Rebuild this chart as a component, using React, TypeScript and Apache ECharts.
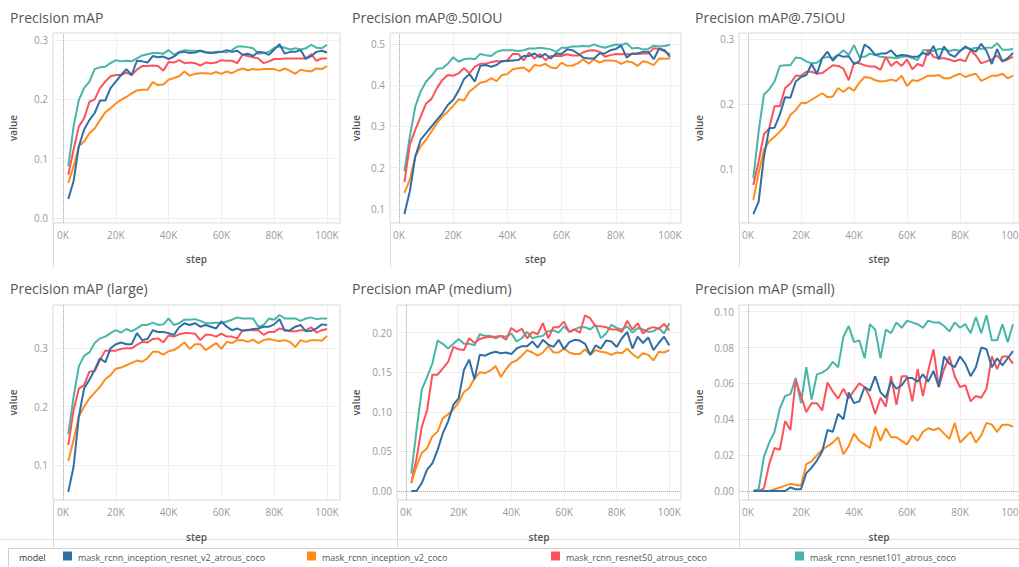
import React, { useEffect, useRef } from "react";
import * as echarts from "echarts";

// ---------- data ----------
const steps = [2, 4, 6, 8, 10, 12, 14, 16, 18, 20, 22, 24, 26, 28, 30, 32, 34, 36, 38, 40, 42, 44, 46, 48, 50, 52, 54, 56, 58, 60, 62, 64, 66, 68, 70, 72, 74, 76, 78, 80, 82, 84, 86, 88, 90, 92, 94, 96, 98, 100];

const models = [
  "mask_rcnn_inception_resnet_v2_atrous_coco",
  "mask_rcnn_inception_v2_coco",
  "mask_rcnn_resnet50_atrous_coco",
  "mask_rcnn_resnet101_atrous_coco",
];
const modelColors = ["#2f6fa5", "#ff8c1a", "#fc5259", "#49b5a9"];

const panelTitles = [
  "Precision mAP",
  "Precision mAP@.50IOU",
  "Precision mAP@.75IOU",
  "Precision mAP (large)",
  "Precision mAP (medium)",
  "Precision mAP (small)",
];

const xTicks = [0, 20, 40, 60, 80, 100];
const yTicksMap = [0, 0.1, 0.2, 0.3];
const yTicksMap50 = [0.1, 0.2, 0.3, 0.4, 0.5];
const yTicksMap75 = [0.1, 0.2, 0.3];
const yTicksLarge = [0.1, 0.2, 0.3];
const yTicksMedium = [0, 0.05, 0.1, 0.15, 0.2];
const yTicksSmall = [0, 0.02, 0.04, 0.06, 0.08, 0.1];

const mAP_incResV2 = [0.032, 0.062, 0.121, 0.149, 0.165, 0.177, 0.198, 0.198, 0.219, 0.230, 0.241, 0.251, 0.241, 0.265, 0.264, 0.262, 0.273, 0.271, 0.272, 0.268, 0.272, 0.279, 0.280, 0.278, 0.279, 0.282, 0.279, 0.278, 0.279, 0.280, 0.283, 0.280, 0.282, 0.275, 0.277, 0.273, 0.280, 0.279, 0.275, 0.284, 0.293, 0.277, 0.280, 0.280, 0.283, 0.268, 0.273, 0.280, 0.282, 0.279];
const mAP_incV2 = [0.059, 0.087, 0.121, 0.129, 0.143, 0.151, 0.165, 0.178, 0.185, 0.193, 0.199, 0.204, 0.210, 0.215, 0.216, 0.216, 0.229, 0.224, 0.225, 0.233, 0.236, 0.239, 0.247, 0.240, 0.243, 0.244, 0.244, 0.243, 0.246, 0.243, 0.247, 0.244, 0.249, 0.252, 0.249, 0.251, 0.250, 0.251, 0.251, 0.251, 0.248, 0.252, 0.248, 0.243, 0.250, 0.248, 0.247, 0.252, 0.251, 0.256];
const mAP_res50 = [0.073, 0.115, 0.154, 0.168, 0.196, 0.200, 0.219, 0.230, 0.239, 0.241, 0.241, 0.245, 0.241, 0.250, 0.256, 0.256, 0.257, 0.256, 0.248, 0.263, 0.262, 0.266, 0.261, 0.262, 0.261, 0.257, 0.262, 0.261, 0.262, 0.266, 0.265, 0.265, 0.261, 0.275, 0.273, 0.271, 0.269, 0.261, 0.264, 0.268, 0.268, 0.269, 0.269, 0.269, 0.269, 0.269, 0.276, 0.265, 0.269, 0.269];
const mAP_res101 = [0.087, 0.154, 0.199, 0.219, 0.230, 0.251, 0.254, 0.255, 0.261, 0.266, 0.264, 0.265, 0.264, 0.269, 0.274, 0.276, 0.278, 0.278, 0.277, 0.283, 0.275, 0.280, 0.283, 0.282, 0.282, 0.282, 0.280, 0.279, 0.280, 0.280, 0.279, 0.283, 0.289, 0.289, 0.288, 0.286, 0.277, 0.278, 0.280, 0.287, 0.289, 0.287, 0.284, 0.286, 0.284, 0.286, 0.292, 0.287, 0.286, 0.292];

const map50_incResV2 = [0.088, 0.143, 0.227, 0.268, 0.284, 0.300, 0.316, 0.332, 0.352, 0.365, 0.387, 0.415, 0.427, 0.409, 0.447, 0.449, 0.445, 0.449, 0.459, 0.459, 0.460, 0.461, 0.471, 0.471, 0.477, 0.468, 0.476, 0.465, 0.477, 0.476, 0.487, 0.485, 0.477, 0.467, 0.465, 0.465, 0.477, 0.477, 0.485, 0.488, 0.496, 0.467, 0.477, 0.477, 0.481, 0.481, 0.463, 0.489, 0.485, 0.469];
const map50_incV2 = [0.139, 0.171, 0.227, 0.252, 0.268, 0.288, 0.308, 0.324, 0.336, 0.350, 0.366, 0.363, 0.385, 0.395, 0.406, 0.409, 0.417, 0.410, 0.425, 0.427, 0.439, 0.441, 0.443, 0.433, 0.449, 0.447, 0.452, 0.443, 0.441, 0.455, 0.447, 0.448, 0.453, 0.463, 0.452, 0.463, 0.455, 0.460, 0.460, 0.459, 0.452, 0.458, 0.456, 0.447, 0.458, 0.455, 0.449, 0.465, 0.464, 0.465];
const map50_res50 = [0.165, 0.256, 0.292, 0.324, 0.356, 0.367, 0.393, 0.413, 0.425, 0.423, 0.429, 0.441, 0.429, 0.445, 0.452, 0.452, 0.456, 0.459, 0.457, 0.461, 0.476, 0.476, 0.460, 0.479, 0.465, 0.476, 0.461, 0.471, 0.471, 0.471, 0.475, 0.472, 0.472, 0.480, 0.484, 0.485, 0.481, 0.469, 0.473, 0.476, 0.475, 0.475, 0.476, 0.476, 0.477, 0.477, 0.490, 0.488, 0.482, 0.475];
const map50_res101 = [0.191, 0.276, 0.348, 0.385, 0.409, 0.423, 0.440, 0.441, 0.452, 0.468, 0.457, 0.463, 0.465, 0.463, 0.476, 0.473, 0.471, 0.481, 0.485, 0.485, 0.485, 0.483, 0.485, 0.489, 0.489, 0.491, 0.489, 0.487, 0.481, 0.491, 0.491, 0.494, 0.494, 0.495, 0.494, 0.499, 0.494, 0.491, 0.495, 0.499, 0.498, 0.502, 0.489, 0.491, 0.487, 0.488, 0.496, 0.494, 0.495, 0.498];

const map75_incResV2 = [0.031, 0.050, 0.119, 0.163, 0.164, 0.184, 0.211, 0.210, 0.235, 0.242, 0.245, 0.262, 0.247, 0.271, 0.281, 0.267, 0.276, 0.273, 0.274, 0.262, 0.266, 0.292, 0.286, 0.276, 0.278, 0.278, 0.283, 0.274, 0.276, 0.275, 0.273, 0.273, 0.279, 0.276, 0.290, 0.269, 0.289, 0.277, 0.273, 0.282, 0.289, 0.284, 0.281, 0.293, 0.282, 0.262, 0.285, 0.266, 0.271, 0.279];
const map75_incV2 = [0.053, 0.094, 0.130, 0.143, 0.150, 0.158, 0.167, 0.184, 0.191, 0.202, 0.202, 0.207, 0.212, 0.217, 0.211, 0.212, 0.225, 0.219, 0.226, 0.221, 0.233, 0.242, 0.241, 0.237, 0.235, 0.236, 0.238, 0.236, 0.244, 0.228, 0.237, 0.236, 0.240, 0.244, 0.244, 0.245, 0.240, 0.240, 0.244, 0.247, 0.242, 0.245, 0.247, 0.236, 0.240, 0.244, 0.244, 0.247, 0.240, 0.244];
const map75_res50 = [0.076, 0.112, 0.154, 0.163, 0.197, 0.197, 0.225, 0.232, 0.244, 0.244, 0.250, 0.250, 0.247, 0.248, 0.254, 0.260, 0.259, 0.255, 0.237, 0.264, 0.263, 0.260, 0.258, 0.258, 0.253, 0.273, 0.259, 0.266, 0.259, 0.269, 0.254, 0.262, 0.259, 0.284, 0.273, 0.271, 0.271, 0.269, 0.266, 0.269, 0.266, 0.283, 0.275, 0.263, 0.266, 0.269, 0.275, 0.266, 0.269, 0.273];
const map75_res101 = [0.086, 0.158, 0.215, 0.223, 0.235, 0.259, 0.260, 0.260, 0.272, 0.271, 0.266, 0.263, 0.264, 0.271, 0.273, 0.271, 0.276, 0.283, 0.276, 0.291, 0.273, 0.273, 0.278, 0.276, 0.273, 0.272, 0.272, 0.271, 0.273, 0.274, 0.271, 0.268, 0.283, 0.283, 0.282, 0.285, 0.285, 0.282, 0.284, 0.282, 0.287, 0.285, 0.287, 0.285, 0.287, 0.287, 0.294, 0.284, 0.284, 0.285];

const large_incResV2 = [0.054, 0.097, 0.183, 0.231, 0.246, 0.263, 0.283, 0.276, 0.300, 0.307, 0.310, 0.307, 0.307, 0.326, 0.314, 0.316, 0.331, 0.328, 0.328, 0.326, 0.323, 0.336, 0.343, 0.340, 0.343, 0.337, 0.340, 0.337, 0.334, 0.346, 0.337, 0.331, 0.334, 0.330, 0.331, 0.333, 0.334, 0.337, 0.337, 0.341, 0.350, 0.330, 0.331, 0.337, 0.340, 0.329, 0.330, 0.334, 0.341, 0.340];
const large_incV2 = [0.107, 0.143, 0.183, 0.200, 0.214, 0.224, 0.234, 0.247, 0.254, 0.265, 0.267, 0.271, 0.275, 0.279, 0.277, 0.283, 0.294, 0.294, 0.289, 0.295, 0.297, 0.303, 0.310, 0.299, 0.307, 0.307, 0.297, 0.303, 0.309, 0.299, 0.311, 0.309, 0.314, 0.314, 0.311, 0.315, 0.309, 0.314, 0.316, 0.314, 0.312, 0.314, 0.311, 0.302, 0.314, 0.311, 0.314, 0.314, 0.313, 0.321];
const large_res50 = [0.134, 0.194, 0.231, 0.237, 0.260, 0.261, 0.280, 0.296, 0.296, 0.296, 0.299, 0.300, 0.300, 0.306, 0.311, 0.310, 0.316, 0.317, 0.310, 0.322, 0.320, 0.324, 0.326, 0.326, 0.325, 0.314, 0.323, 0.323, 0.320, 0.325, 0.320, 0.320, 0.317, 0.331, 0.332, 0.331, 0.331, 0.323, 0.328, 0.328, 0.334, 0.332, 0.329, 0.329, 0.331, 0.331, 0.336, 0.327, 0.331, 0.333];
const large_res101 = [0.153, 0.217, 0.269, 0.287, 0.293, 0.309, 0.317, 0.320, 0.326, 0.331, 0.327, 0.333, 0.329, 0.334, 0.340, 0.340, 0.344, 0.340, 0.341, 0.351, 0.340, 0.343, 0.349, 0.349, 0.350, 0.347, 0.343, 0.343, 0.344, 0.343, 0.346, 0.349, 0.353, 0.351, 0.351, 0.351, 0.337, 0.340, 0.351, 0.349, 0.357, 0.351, 0.351, 0.351, 0.347, 0.351, 0.353, 0.350, 0.351, 0.351];

const medium_incResV2 = [0.000, 0.000, 0.010, 0.027, 0.035, 0.052, 0.073, 0.088, 0.109, 0.117, 0.153, 0.166, 0.141, 0.172, 0.171, 0.174, 0.176, 0.174, 0.175, 0.173, 0.180, 0.183, 0.183, 0.189, 0.181, 0.191, 0.185, 0.182, 0.191, 0.179, 0.188, 0.191, 0.190, 0.186, 0.172, 0.184, 0.180, 0.190, 0.189, 0.182, 0.193, 0.201, 0.180, 0.195, 0.187, 0.194, 0.178, 0.187, 0.195, 0.184];
const medium_incV2 = [0.010, 0.031, 0.048, 0.054, 0.069, 0.075, 0.092, 0.097, 0.103, 0.112, 0.125, 0.130, 0.142, 0.150, 0.149, 0.152, 0.158, 0.144, 0.154, 0.162, 0.165, 0.171, 0.178, 0.175, 0.171, 0.175, 0.183, 0.175, 0.175, 0.180, 0.175, 0.173, 0.173, 0.179, 0.172, 0.178, 0.176, 0.175, 0.172, 0.175, 0.174, 0.180, 0.173, 0.168, 0.174, 0.172, 0.165, 0.176, 0.175, 0.178];
const medium_res50 = [0.010, 0.041, 0.081, 0.102, 0.147, 0.147, 0.155, 0.163, 0.182, 0.179, 0.178, 0.193, 0.187, 0.192, 0.194, 0.195, 0.195, 0.196, 0.191, 0.206, 0.201, 0.205, 0.193, 0.201, 0.198, 0.212, 0.193, 0.207, 0.207, 0.214, 0.201, 0.204, 0.200, 0.222, 0.218, 0.208, 0.208, 0.207, 0.204, 0.204, 0.201, 0.215, 0.204, 0.212, 0.199, 0.205, 0.207, 0.205, 0.211, 0.203];
const medium_res101 = [0.022, 0.077, 0.128, 0.144, 0.161, 0.190, 0.186, 0.180, 0.186, 0.192, 0.186, 0.186, 0.184, 0.198, 0.196, 0.196, 0.193, 0.196, 0.195, 0.199, 0.189, 0.193, 0.201, 0.193, 0.195, 0.196, 0.202, 0.203, 0.200, 0.208, 0.201, 0.204, 0.207, 0.207, 0.204, 0.210, 0.193, 0.199, 0.210, 0.206, 0.204, 0.208, 0.200, 0.206, 0.204, 0.201, 0.202, 0.206, 0.199, 0.212];

const small_incResV2 = [0.000, 0.000, 0.000, 0.000, 0.000, 0.000, 0.000, 0.002, 0.001, 0.001, 0.010, 0.013, 0.017, 0.022, 0.034, 0.033, 0.043, 0.040, 0.055, 0.049, 0.050, 0.058, 0.056, 0.064, 0.055, 0.052, 0.061, 0.057, 0.059, 0.063, 0.063, 0.061, 0.065, 0.061, 0.067, 0.058, 0.075, 0.071, 0.069, 0.075, 0.071, 0.064, 0.069, 0.080, 0.079, 0.069, 0.074, 0.070, 0.074, 0.078];
const small_incV2 = [0.000, 0.000, 0.000, 0.000, 0.001, 0.002, 0.003, 0.004, 0.0035, 0.003, 0.015, 0.0165, 0.020, 0.023, 0.025, 0.027, 0.030, 0.0205, 0.025, 0.032, 0.028, 0.026, 0.024, 0.036, 0.028, 0.035, 0.030, 0.030, 0.028, 0.026, 0.031, 0.028, 0.033, 0.035, 0.034, 0.035, 0.032, 0.029, 0.038, 0.027, 0.030, 0.033, 0.027, 0.031, 0.038, 0.037, 0.033, 0.037, 0.037, 0.036];
const small_res50 = [0.000, 0.000, 0.0015, 0.015, 0.024, 0.023, 0.039, 0.034, 0.062, 0.053, 0.044, 0.049, 0.049, 0.045, 0.0605, 0.0555, 0.0515, 0.057, 0.0515, 0.056, 0.060, 0.058, 0.0525, 0.043, 0.052, 0.047, 0.064, 0.048, 0.064, 0.064, 0.050, 0.068, 0.053, 0.067, 0.079, 0.058, 0.068, 0.075, 0.064, 0.058, 0.059, 0.050, 0.053, 0.052, 0.057, 0.075, 0.068, 0.075, 0.075, 0.071];
const small_res101 = [0.000, 0.001, 0.019, 0.027, 0.033, 0.046, 0.053, 0.054, 0.063, 0.049, 0.069, 0.051, 0.065, 0.066, 0.068, 0.072, 0.069, 0.086, 0.092, 0.083, 0.084, 0.074, 0.093, 0.090, 0.074, 0.090, 0.088, 0.094, 0.091, 0.095, 0.094, 0.093, 0.091, 0.095, 0.094, 0.094, 0.092, 0.089, 0.094, 0.091, 0.093, 0.088, 0.097, 0.088, 0.098, 0.084, 0.084, 0.093, 0.083, 0.093];

const panelSeries = [
  [mAP_incResV2, mAP_incV2, mAP_res50, mAP_res101],
  [map50_incResV2, map50_incV2, map50_res50, map50_res101],
  [map75_incResV2, map75_incV2, map75_res50, map75_res101],
  [large_incResV2, large_incV2, large_res50, large_res101],
  [medium_incResV2, medium_incV2, medium_res50, medium_res101],
  [small_incResV2, small_incV2, small_res50, small_res101],
];
const panelYTicks = [yTicksMap, yTicksMap50, yTicksMap75, yTicksLarge, yTicksMedium, yTicksSmall];
const panelYDecimals = [1, 1, 1, 1, 2, 2];
const panelZeroLine = [false, false, false, false, true, true];

// ---------- layout ----------
const layout = [
  { left: 53, top: 33, width: 287, height: 190, xMin: -3.79, xMax: 104.92, yMin: -0.0084, yMax: 0.3118, yGap: 35, tx: 10, ty: 17, extTo: 267 },
  { left: 390, top: 33, width: 291, height: 190, xMin: -3.32, xMax: 104.06, yMin: 0.066, yMax: 0.5267, yGap: 29, tx: 352, ty: 17, extTo: 267 },
  { left: 739, top: 33, width: 280, height: 190, xMin: -3.4, xMax: 102.26, yMin: 0.0174, yMax: 0.3097, yGap: 35, tx: 695, ty: 17, extTo: 267 },
  { left: 53, top: 305, width: 287, height: 195, xMin: -3.79, xMax: 104.92, yMin: 0.04, yMax: 0.3742, yGap: 35, tx: 10, ty: 288, extTo: 548 },
  { left: 397, top: 305, width: 284, height: 195, xMin: -3.42, xMax: 104.44, yMin: -0.0114, yMax: 0.235, yGap: 36, tx: 352, ty: 288, extTo: 548 },
  { left: 739, top: 305, width: 280, height: 195, xMin: -3.4, xMax: 102.26, yMin: -0.005, yMax: 0.1037, yGap: 35, tx: 695, ty: 288, extTo: 548 },
];
const legendX = [63, 307, 551, 795];
const FONT = "'Open Sans', 'Noto Sans', sans-serif";
const drawOrder = [3, 2, 1, 0];

function buildOption() {
  const grid: any[] = [];
  const xAxis: any[] = [];
  const yAxis: any[] = [];
  const series: any[] = [];
  const graphic: any[] = [];

  layout.forEach((L, p) => {
    grid.push({
      left: L.left, top: L.top, width: L.width, height: L.height,
      show: true, borderColor: "#d9d9d9", borderWidth: 1, backgroundColor: "transparent",
      containLabel: false, outerBoundsMode: "none",
    });
    xAxis.push({
      type: "value", gridIndex: p, min: L.xMin, max: L.xMax,
      name: "step", nameLocation: "middle", nameGap: p < 3 ? 31 : 32,
      nameTextStyle: { fontFamily: FONT, fontSize: 10, color: "#555", fontWeight: 600 },
      axisLine: { show: false },
      axisTick: { show: false, customValues: xTicks },
      axisLabel: { customValues: xTicks, formatter: (v: number) => `${Math.round(v)}K`, color: "#9a9a9a", fontFamily: FONT, fontSize: 10, margin: 7 },
      splitLine: { show: true, lineStyle: { color: "#efefef", width: 1 } },
    });
    const yt = panelYTicks[p];
    const dec = panelYDecimals[p];
    yAxis.push({
      type: "value", gridIndex: p, min: L.yMin, max: L.yMax,
      name: "value", nameLocation: "middle", nameGap: L.yGap, nameRotate: 90,
      nameTextStyle: { fontFamily: FONT, fontSize: 10, color: "#555", fontWeight: 600 },
      axisLine: { show: false },
      axisTick: { show: false, customValues: yt },
      axisLabel: { customValues: yt, formatter: (v: number) => v.toFixed(dec), color: "#9a9a9a", fontFamily: FONT, fontSize: 10, margin: 5 },
      splitLine: { show: true, lineStyle: { color: "#efefef", width: 1 } },
    });

    drawOrder.forEach((m, k) => {
      const vals = panelSeries[p][m];
      const s: any = {
        type: "line", name: models[m], xAxisIndex: p, yAxisIndex: p,
        data: steps.map((st, i) => [st, vals[i]]),
        showSymbol: false, symbol: "none",
        lineStyle: { width: 2, color: modelColors[m] },
        itemStyle: { color: modelColors[m] },
        z: 3 + k,
      };
      if (k === 0) {
        const md: any[] = [{ xAxis: 0 }];
        if (panelZeroLine[p]) md.push({ yAxis: 0 });
        s.markLine = {
          silent: true, symbol: ["none", "none"], label: { show: false },
          lineStyle: { type: "dotted", color: "#b0b0b0", width: 1 },
          data: md, z: 2,
        };
      }
      series.push(s);
    });

    graphic.push({
      type: "text", x: L.tx, y: L.ty,
      style: { text: panelTitles[p], fontFamily: FONT, fontSize: 14, fill: "#555", verticalAlign: "middle" },
    });
    graphic.push({
      type: "line", shape: { x1: L.left + 0.5, y1: L.top + L.height, x2: L.left + 0.5, y2: L.extTo },
      style: { stroke: "#d9d9d9", lineWidth: 1 },
    });
  });

  graphic.push({ type: "line", shape: { x1: 0, y1: 539.5, x2: 1019, y2: 539.5 }, style: { stroke: "#e0e0e0", lineWidth: 1 } });
  graphic.push({ type: "rect", shape: { x: 8.5, y: 548.5, width: 1015, height: 24 }, style: { fill: "none", stroke: "#d0d0d0", lineWidth: 1 } });
  graphic.push({ type: "text", x: 19, y: 557, style: { text: "model", fontFamily: FONT, fontSize: 9, fill: "#333", verticalAlign: "middle" } });
  models.forEach((name, m) => {
    graphic.push({ type: "rect", shape: { x: legendX[m], y: 551.5, width: 9, height: 9 }, style: { fill: modelColors[m] } });
    graphic.push({ type: "text", x: legendX[m] + 15, y: 557, style: { text: name, fontFamily: FONT, fontSize: 9, fill: "#555", verticalAlign: "middle" } });
  });

  return { animation: false, backgroundColor: "#fff", grid, xAxis, yAxis, series, graphic };
}

export default function App() {
  const ref = useRef<HTMLDivElement>(null);
  useEffect(() => {
    if (!ref.current) return;
    const chart = echarts.init(ref.current, null, { renderer: "svg" });
    chart.setOption(buildOption() as any);
    return () => chart.dispose();
  }, []);
  return <div ref={ref} style={{ position: "fixed", left: 0, top: 0, width: 1019, height: 567, background: "#fff" }} />;
}
